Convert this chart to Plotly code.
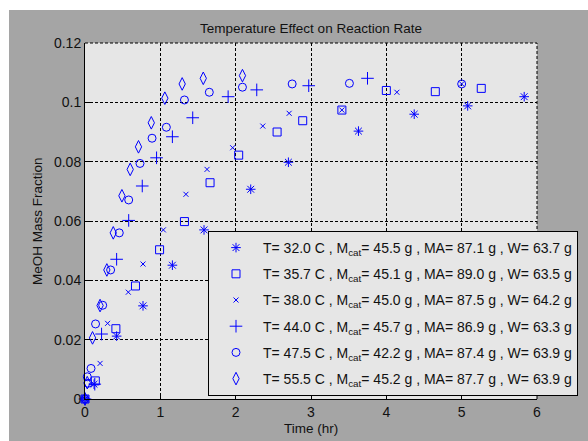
import plotly.graph_objects as go

# ---------------- data ----------------
series_names = [
    "T= 32.0 C , M<sub>cat</sub>= 45.5 g , MA= 87.1 g , W= 63.7 g",
    "T= 35.7 C , M<sub>cat</sub>= 45.1 g , MA= 89.0 g , W= 63.5 g",
    "T= 38.0 C , M<sub>cat</sub>= 45.0 g , MA= 87.5 g , W= 64.2 g",
    "T= 44.0 C , M<sub>cat</sub>= 45.7 g , MA= 86.9 g , W= 63.3 g",
    "T= 47.5 C , M<sub>cat</sub>= 42.2 g , MA= 87.4 g , W= 63.9 g",
    "T= 55.5 C , M<sub>cat</sub>= 45.2 g , MA= 87.7 g , W= 63.9 g",
]

t_32 = [0.0, 0.12, 0.42, 0.77, 1.16, 1.58, 2.20, 2.70, 3.63, 4.37, 5.08, 5.83]
y_32 = [0.0, 0.005, 0.0212, 0.0314, 0.0451, 0.057, 0.0707, 0.0798, 0.0903, 0.096, 0.0988, 0.1019]

t_357 = [0.0, 0.137, 0.41, 0.67, 0.99, 1.32, 1.66, 2.04, 2.55, 2.89, 3.41, 4.0, 4.65, 5.26]
y_357 = [0.0, 0.0061, 0.0237, 0.0381, 0.0503, 0.0598, 0.0729, 0.0822, 0.090, 0.0938, 0.0974, 0.104, 0.1036, 0.1047]

t_38 = [0.0, 0.20, 0.30, 0.575, 0.77, 1.04, 1.34, 1.62, 1.96, 2.36, 2.71, 3.41, 4.14, 5.0]
y_38 = [0.0, 0.012, 0.0255, 0.036, 0.0455, 0.057, 0.069, 0.0774, 0.0847, 0.092, 0.0963, 0.0974, 0.1034, 0.1062]

t_44 = [0.0, 0.13, 0.22, 0.42, 0.58, 0.76, 0.95, 1.16, 1.43, 1.90, 2.28, 2.97, 3.75]
y_44 = [0.0, 0.005, 0.0219, 0.0471, 0.0602, 0.0718, 0.0813, 0.0884, 0.0948, 0.1019, 0.1042, 0.1056, 0.1081]

t_475 = [0.0, 0.04, 0.03, 0.08, 0.14, 0.235, 0.34, 0.455, 0.58, 0.73, 0.89, 1.08, 1.32, 1.65, 2.09, 2.75, 3.51, 5.0]
y_475 = [0.0, 0.0053, 0.0075, 0.0103, 0.0253, 0.0316, 0.0435, 0.056, 0.0671, 0.0794, 0.0879, 0.0916, 0.1008, 0.1034, 0.1051, 0.1062, 0.1064, 0.1062]

t_555 = [0.0, 0.03, 0.10, 0.20, 0.29, 0.375, 0.49, 0.60, 0.71, 0.88, 1.06, 1.29, 1.57, 2.09]
y_555 = [0.0, 0.0055, 0.0206, 0.0315, 0.0435, 0.056, 0.0685, 0.0774, 0.085, 0.0931, 0.1014, 0.1062, 0.1081, 0.109]

x_ticks = [0, 1, 2, 3, 4, 5, 6]
x_tick_labels = ["0", "1", "2", "3", "4", "5", "6"]
y_ticks = [0, 0.02, 0.04, 0.06, 0.08, 0.10, 0.12]
y_tick_labels = ["0", "0.02", "0.04", "0.06", "0.08", "0.1", "0.12"]

title_text = "Temperature Effect on Reaction Rate"
x_label = "Time (hr)"
y_label = "MeOH Mass Fraction"

# ---------------- styling ----------------
BLUE = "#0000ff"
FONT = "Liberation Sans, Arial, sans-serif"
series = [
    (t_32, y_32, "asterisk-open", 8),
    (t_357, y_357, "square-open", 8),
    (t_38, y_38, "x-thin-open", 5),
    (t_44, y_44, "cross-thin-open", 9),
    (t_475, y_475, "circle-open", 8),
    (t_555, y_555, "diamond-tall-open", 9),
]

fig = go.Figure()
for i, ((xs, ys, sym, sz), name) in enumerate(zip(series, series_names)):
    fig.add_trace(go.Scatter(
        x=xs, y=ys, mode="markers", name=name, legendgroup=f"g{i}",
        cliponaxis=False,
        marker=dict(symbol=sym, size=sz, color=BLUE,
                    line=dict(color=BLUE, width=1)),
    ))

W, H = 588, 441
L, R, T, B = 85, 51, 43, 42
pw, ph = W - L - R, H - T - B

def px2x(px):
    return (px - L) / pw

def py2y(py):
    return (H - B - py) / ph

shapes = [
    dict(type="rect", xref="paper", yref="paper", layer="below",
         x0=px2x(9), x1=px2x(W + 2), y0=py2y(H + 2), y1=py2y(10),
         fillcolor="#a5a5a5", line=dict(width=0)),
    dict(type="rect", xref="paper", yref="paper", layer="below",
         x0=0, x1=1, y0=0, y1=1, fillcolor="#e6e6e6", line=dict(width=0)),
    dict(type="line", xref="paper", yref="paper", x0=0, x1=1, y0=1, y1=1,
         line=dict(color="black", width=1, dash="3px,2px")),
    dict(type="line", xref="paper", yref="paper", x0=1, x1=1, y0=0, y1=1,
         line=dict(color="black", width=1, dash="3px,2px")),
]

fig.update_layout(
    width=W, height=H,
    margin=dict(l=L, r=R, t=T, b=B, autoexpand=False),
    paper_bgcolor="white",
    plot_bgcolor="rgba(0,0,0,0)",
    font=dict(family=FONT, size=14, color="#111111"),
    title=dict(text=title_text, x=(L + pw / 2) / W, xanchor="center",
               y=(H - 28) / H, yanchor="middle", yref="container",
               font=dict(size=13.5, color="#111111")),
    shapes=shapes,
    showlegend=True,
    legend=dict(x=px2x(208), y=py2y(231), xanchor="left", yanchor="top",
                bgcolor="#e6e6e6", bordercolor="black", borderwidth=1,
                font=dict(size=14), tracegroupgap=5, itemwidth=44,
                traceorder="grouped"),
    annotations=[
        dict(text=x_label, xref="paper", yref="paper", x=0.5, y=py2y(428),
             xanchor="center", yanchor="middle", showarrow=False,
             font=dict(size=13.5)),
        dict(text=y_label, xref="paper", yref="paper", x=px2x(37), y=0.5,
             xanchor="center", yanchor="middle", showarrow=False, textangle=-90,
             font=dict(size=13.5)),
    ],
)

fig.update_xaxes(range=[0, 6], tickvals=x_ticks, ticktext=x_tick_labels,
                 showline=True, linecolor="black", linewidth=1, mirror=False,
                 ticks="inside", ticklen=5, tickcolor="black",
                 showgrid=True, gridcolor="black", gridwidth=1, griddash="3px,2px",
                 zeroline=False, fixedrange=True)
fig.update_yaxes(range=[0, 0.12], tickvals=y_ticks, ticktext=y_tick_labels,
                 showline=True, linecolor="black", linewidth=1, mirror=False,
                 ticks="inside", ticklen=5, tickcolor="black",
                 showgrid=True, gridcolor="black", gridwidth=1, griddash="3px,2px",
                 zeroline=False, fixedrange=True)

fig.write_html("out.html", config={"displayModeBar": False},
               post_script="document.body.style.margin='0';document.body.style.padding='0';")
